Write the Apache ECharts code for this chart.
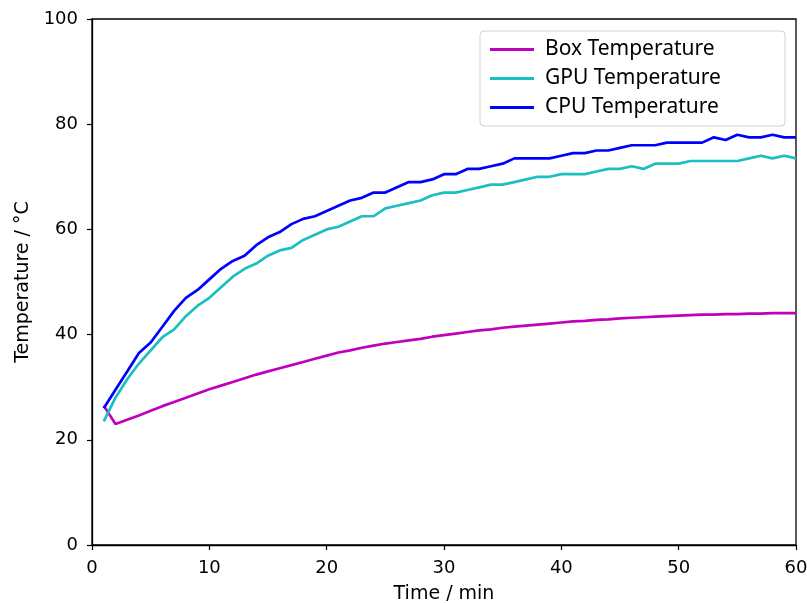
<!DOCTYPE html>
<html>
<head>
<meta charset="utf-8">
<script src="https://cdn.jsdelivr.net/npm/echarts@6/dist/echarts.min.js"></script>
<style>html,body{margin:0;padding:0;background:#fff}#c{width:807px;height:603px}</style>
</head>
<body>
<div id="c"></div>
<script>
const minutes = [1,2,3,4,5,6,7,8,9,10,11,12,13,14,15,16,17,18,19,20,21,22,23,24,25,26,27,28,29,30,31,32,33,34,35,36,37,38,39,40,41,42,43,44,45,46,47,48,49,50,51,52,53,54,55,56,57,58,59,60];
const boxTemp = [26.5,23.0,23.8,24.6,25.5,26.4,27.2,28.0,28.8,29.6,30.3,31.0,31.7,32.4,33.0,33.6,34.2,34.8,35.4,36.0,36.6,37.0,37.5,37.9,38.3,38.6,38.9,39.2,39.6,39.9,40.2,40.5,40.8,41.0,41.3,41.5,41.7,41.9,42.1,42.3,42.5,42.6,42.8,42.9,43.1,43.2,43.3,43.4,43.5,43.6,43.7,43.8,43.8,43.9,43.9,44.0,44.0,44.1,44.1,44.1];
const gpuTemp = [23.5,28,31.5,34.5,37,39.5,41,43.5,45.5,47,49,51,52.5,53.5,55,56,56.5,58,59,60,60.5,61.5,62.5,62.5,64,64.5,65,65.5,66.5,67,67,67.5,68,68.5,68.5,69,69.5,70,70,70.5,70.5,70.5,71,71.5,71.5,72,71.5,72.5,72.5,72.5,73,73,73,73,73,73.5,74,73.5,74,73.5];
const cpuTemp = [26,29.5,33,36.5,38.5,41.5,44.5,47,48.5,50.5,52.5,54,55,57,58.5,59.5,61,62,62.5,63.5,64.5,65.5,66,67,67,68,69,69,69.5,70.5,70.5,71.5,71.5,72,72.5,73.5,73.5,73.5,73.5,74,74.5,74.5,75,75,75.5,76,76,76,76.5,76.5,76.5,76.5,77.5,77,78,77.5,77.5,78,77.5,77.5];
const xTicks = [0,10,20,30,40,50,60];
const yTicks = [0,20,40,60,80,100];
const seriesNames = ['Box Temperature','GPU Temperature','CPU Temperature'];
const seriesColors = ['#bf00bf','#1cbfbf','#0000ff'];
const seriesValues = [boxTemp, gpuTemp, cpuTemp];

const chart = echarts.init(document.getElementById('c'), null, {renderer:'canvas'});
const tickFont = {fontFamily:'DejaVu Sans', fontSize:18, color:'#000'};
chart.setOption({
  animation:false,
  backgroundColor:'#fff',
  grid:{left:92, right:11, top:19, bottom:58, show:true, borderColor:'#000', borderWidth:1.3, backgroundColor:'transparent', containLabel:false, outerBoundsMode:'none'},
  legend:{
    orient:'vertical', right:22, top:31,
    data:seriesNames.map((n,i)=>({name:n, icon:'rect', itemStyle:{color:seriesColors[i]}})),
    itemWidth:44, itemHeight:3, itemGap:8,
    backgroundColor:'#fff', borderColor:'#d0d0d0', borderWidth:1, borderRadius:4,
    padding:[8,10,8,10],
    textStyle:{fontFamily:'Noto Sans', fontSize:21, color:'#000', lineHeight:20, width:230, padding:[0,0,0,6]}
  },
  xAxis:{
    type:'value', min:0, max:60, interval:10,
    name:'Time / min', nameLocation:'middle', nameGap:40,
    nameTextStyle:{fontFamily:'DejaVu Sans', fontSize:19, color:'#000'},
    axisLine:{show:true, onZero:false, lineStyle:{color:'#000', width:1.3}},
    axisTick:{show:true, length:5, lineStyle:{color:'#000', width:1.2}},
    axisLabel:Object.assign({margin:14, formatter:v=>xTicks.includes(v)?String(v):''}, tickFont),
    splitLine:{show:false}
  },
  yAxis:{
    type:'value', min:0, max:100, interval:20,
    name:'Temperature / °C', nameLocation:'middle', nameGap:59,
    nameTextStyle:{fontFamily:'DejaVu Sans', fontSize:19, color:'#000'},
    axisLine:{show:true, lineStyle:{color:'#000', width:1.3}},
    axisTick:{show:true, length:5, lineStyle:{color:'#000', width:1.2}},
    axisLabel:Object.assign({margin:14, formatter:v=>yTicks.includes(v)?String(v):''}, tickFont),
    splitLine:{show:false}
  },
  series:seriesNames.map((n,i)=>({
    name:n, type:'line', showSymbol:false, symbol:'none',
    lineStyle:{color:seriesColors[i], width:2.7},
    itemStyle:{color:seriesColors[i]},
    data:minutes.map((t,j)=>[t, seriesValues[i][j]])
  }))
});
</script>
</body>
</html>
